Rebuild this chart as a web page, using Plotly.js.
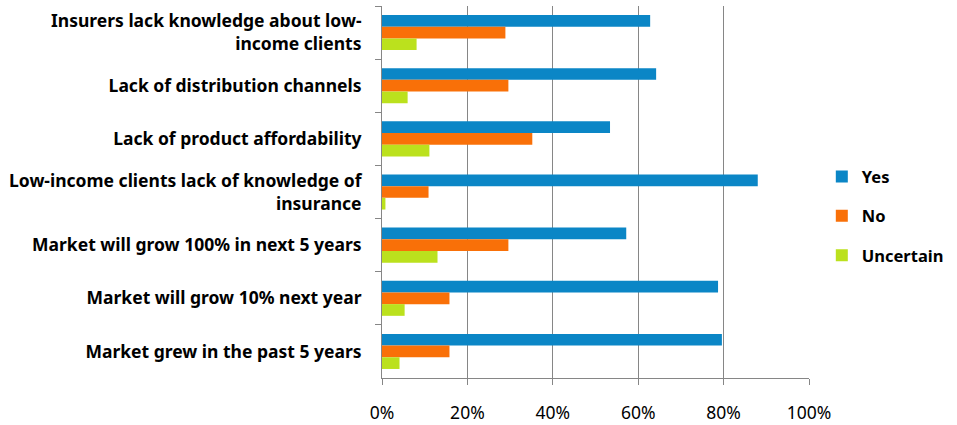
<!DOCTYPE html>
<html>
<head>
<meta charset="utf-8">
<script src="https://cdn.plot.ly/plotly-3.0.1.min.js"></script>
<style>html,body{margin:0;padding:0;background:#fff;}#chart{width:957px;height:425px;}</style>
</head>
<body>
<div id="chart"></div>
<script>
const categories = [
  "Insurers lack knowledge about low-<br>income clients",
  "Lack of distribution channels",
  "Lack of product affordability",
  "Low-income clients lack of knowledge of<br>insurance",
  "Market will grow 100% in next 5 years",
  "Market will grow 10% next year",
  "Market grew in the past 5 years"
];
const yesValues = [62.8, 64.2, 53.4, 88.0, 57.2, 78.7, 79.6];
const noValues = [28.9, 29.6, 35.2, 10.9, 29.6, 15.8, 15.8];
const uncertainValues = [8.1, 6.0, 11.1, 0.8, 13.0, 5.3, 4.1];
const seriesNames = ["Yes", "No", "Uncertain"];
const xTickVals = [0, 20, 40, 60, 80, 100];
const xTickText = ["0%", "20%", "40%", "60%", "80%", "100%"];

const colors = ["#0B86C6", "#F97008", "#BBE11D"];
const font = "'Noto Sans', sans-serif";
const series = [yesValues, noValues, uncertainValues];
const data = series.map((vals, i) => ({
  type: "bar",
  orientation: "h",
  name: seriesNames[i],
  legendgroup: seriesNames[i],
  y: categories,
  x: vals,
  marker: {color: colors[i]},
  hoverinfo: "x+y"
}));

const layout = {
  width: 957,
  height: 425,
  margin: {l: 381.5, r: 147.7, t: 6, b: 47, autoexpand: false},
  paper_bgcolor: "#fff",
  plot_bgcolor: "#fff",
  barmode: "group",
  bargap: 0.34,
  bargroupgap: 0,
  font: {family: font, color: "#000", size: 16},
  showlegend: true,
  legend: {
    x: 1.03, xanchor: "left", y: 0.435, yanchor: "middle",
    traceorder: "grouped",
    tracegroupgap: 15,
    itemwidth: 30,
    font: {family: font, size: 16.5, color: "#000", weight: "bold"},
    bgcolor: "rgba(0,0,0,0)"
  },
  xaxis: {
    range: [0, 100],
    tickvals: xTickVals,
    ticktext: xTickText,
    showgrid: true,
    gridcolor: "#868686",
    gridwidth: 1,
    zeroline: false,
    showline: true,
    linecolor: "#868686",
    linewidth: 1,
    ticks: "outside",
    ticklen: 6,
    tickcolor: "#868686",
    ticklabelstandoff: 13,
    tickfont: {family: font, size: 17.5, color: "#000"},
    fixedrange: true
  },
  yaxis: {
    type: "category",
    autorange: "reversed",
    showline: true,
    linecolor: "#868686",
    linewidth: 1,
    ticks: "outside",
    ticklen: 6,
    tickcolor: "#868686",
    tickson: "boundaries",
    showgrid: false,
    ticklabelstandoff: 16,
    tickfont: {family: font, size: 17.5, color: "#000", weight: "bold"},
    fixedrange: true
  }
};

Plotly.newPlot("chart", data, layout, {displayModeBar: false, staticPlot: true});
</script>
</body>
</html>
